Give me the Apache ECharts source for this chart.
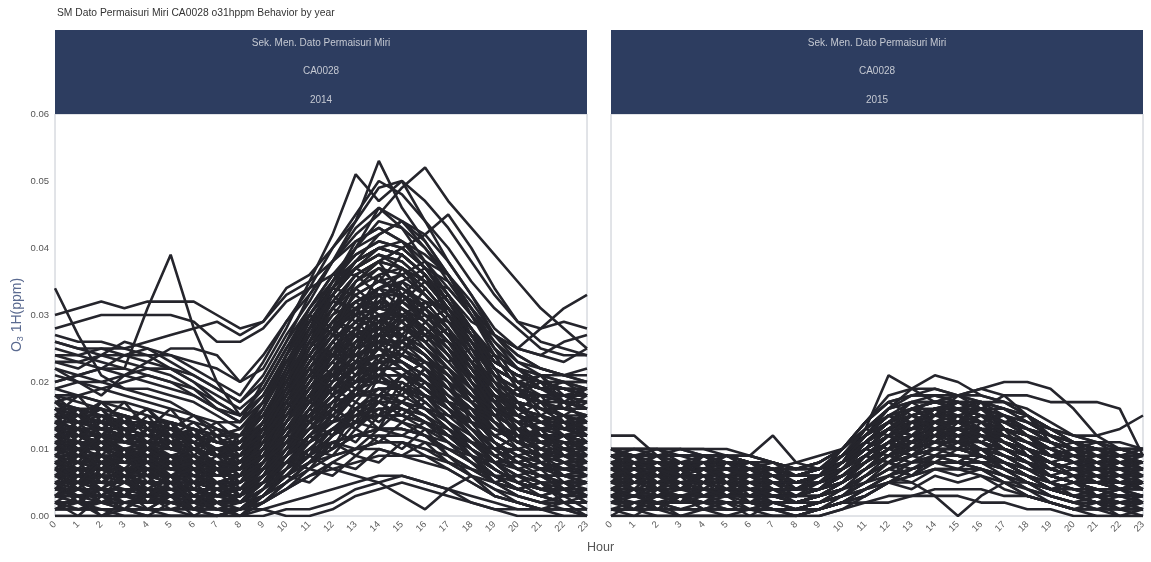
<!DOCTYPE html>
<html>
<head>
<meta charset="utf-8">
<script src="https://cdn.jsdelivr.net/npm/echarts@6/dist/echarts.min.js"></script>
<style>
  html, body { margin: 0; padding: 0; background: #fff; }
  #chart { width: 1151px; height: 562px; }
</style>
</head>
<body>
<div id="chart"></div>
<script>
// 小时刻度
const hours = ['0','1','2','3','4','5','6','7','8','9','10','11','12','13','14','15','16','17','18','19','20','21','22','23'];
const yTicks = [0, 0.01, 0.02, 0.03, 0.04, 0.05, 0.06];
const panelYears = ['2014', '2015'];
const stationName = 'Sek. Men. Dato Permaisuri Miri';
const stationCode = 'CA0028';

// 2014 日变化曲线 (ppb，每行一天，0-23 时)
const lines2014 = [
  [34,27,21,19,18,17,15,13,12,17,24,29,33,37,39,37,34,30,27,24,22,21,21,22],
  [30,31,32,31,32,32,32,30,28,29,33,35,38,41,43,41,37,33,29,27,25,24,26,27],
  [28,29,30,30,30,30,29,26,26,28,32,34,36,40,42,44,40,36,31,27,25,24,23,25],
  [27,26,26,25,26,27,28,29,27,29,34,36,40,45,50,48,44,40,35,31,28,25,24,24],
  [26,25,25,24,24,24,23,22,20,24,29,33,38,42,45,49,52,47,43,39,35,31,28,25],
  [24,24,23,22,31,39,28,20,15,19,25,30,35,40,46,43,38,34,30,26,23,22,21,21],
  [23,22,24,26,25,23,21,19,17,21,27,32,38,44,53,46,41,36,31,27,24,22,21,20],
  [22,20,18,21,23,25,25,24,20,22,28,35,42,51,47,50,44,38,33,28,25,28,31,33],
  [20,21,22,24,25,24,22,20,18,23,29,34,40,44,49,50,47,43,38,33,29,26,25,24],
  [19,20,19,18,17,16,15,14,14,20,26,33,38,43,46,44,42,45,40,34,29,28,29,28],
  [26,25,24,23,22,21,19,16,14,18,24,30,35,39,41,40,37,33,28,24,22,21,20,20],
  [25,24,25,25,24,22,20,17,15,18,24,29,34,38,40,39,36,32,27,23,21,20,20,19],
  [24,23,22,21,20,19,18,16,14,17,23,28,33,37,39,38,35,31,27,23,21,20,20,20],
  [23,23,24,24,23,22,20,18,16,19,25,31,36,39,41,40,37,32,27,23,21,20,19,19],
  [22,21,20,21,22,22,21,19,17,20,26,31,35,38,40,39,36,31,26,22,20,19,18,18],
  [20,21,22,22,21,20,18,16,15,19,25,30,34,38,40,39,36,32,27,22,20,19,18,18],
  [19,18,19,20,21,20,19,17,15,18,23,28,32,36,38,37,34,30,25,21,19,18,18,17],
  [21,20,20,19,19,18,17,15,13,16,22,28,33,37,40,41,38,33,28,23,21,20,19,19],
  [14,13,12,11,10,9,8,7,8,13,20,27,34,40,44,43,40,35,30,25,22,20,19,18],
  [12,12,11,10,10,9,8,7,8,12,19,26,33,38,42,44,41,36,30,25,22,20,19,18],
  [16,15,14,13,12,11,10,9,10,14,21,28,35,41,43,41,39,36,32,27,24,22,21,20],
  [10,9,9,8,8,7,6,5,6,11,18,25,31,36,38,40,42,38,33,27,23,21,20,19],
  [15,14,13,12,11,10,9,7,8,12,18,24,29,33,35,34,31,27,22,18,16,15,14,13],
  [12,11,11,10,9,8,7,6,7,11,16,21,26,30,32,31,28,24,19,15,13,12,12,11],
  [8,8,7,7,6,6,5,4,5,9,14,19,24,28,30,29,26,22,17,13,11,10,9,9],
  [5,5,4,4,4,3,3,2,3,7,12,17,22,25,27,27,24,20,15,11,8,7,6,6],
  [3,3,2,2,2,2,1,1,2,5,9,13,17,20,22,22,20,16,12,8,6,5,4,4],
  [1,1,1,1,0,0,0,0,1,3,6,10,13,16,18,18,16,13,9,6,4,3,2,2],
  [18,17,16,15,14,13,12,11,12,16,22,27,31,35,37,36,33,29,25,21,19,18,18,17],
  [17,18,17,16,15,14,13,12,13,17,23,29,34,38,40,39,36,32,27,22,20,19,18,18],
  [16,15,15,14,14,13,12,10,11,15,21,26,30,32,34,35,33,30,26,22,20,19,19,18],
  [14,13,12,12,11,11,10,9,10,14,20,26,32,36,38,37,35,31,26,21,18,17,16,16],
  [13,12,12,11,11,10,10,9,9,12,17,22,26,29,31,32,30,27,23,19,17,16,15,14],
  [11,10,10,9,9,9,8,7,8,12,17,23,28,32,34,33,31,28,23,18,15,14,13,12],
  [10,10,9,9,8,8,7,6,6,10,15,20,25,28,30,31,29,25,20,16,14,13,12,11],
  [9,9,8,8,8,7,7,6,6,9,14,19,23,27,29,28,26,23,19,15,13,12,11,10],
  [7,7,6,6,6,5,5,4,5,8,13,18,22,26,28,27,25,21,17,14,12,10,9,8],
  [6,6,6,5,5,5,4,3,4,7,11,15,19,22,24,24,22,19,15,11,9,8,7,7],
  [4,4,4,3,3,3,2,2,3,6,10,14,18,21,23,23,21,17,13,9,7,6,5,5],
  [2,2,2,1,1,1,1,0,1,4,8,12,16,19,21,21,19,16,12,8,5,4,3,3],
  [0,0,0,0,0,0,0,0,0,2,5,8,12,15,17,17,15,12,9,5,3,2,1,1],
  [17,16,15,14,13,12,11,10,11,15,20,26,31,35,38,40,37,33,28,23,21,20,19,18],
  [15,15,14,14,13,12,11,10,10,14,19,24,28,31,33,34,32,28,24,20,18,17,16,15],
  [13,13,13,12,12,11,10,9,9,13,18,23,27,31,33,33,31,27,22,18,16,15,14,14],
  [12,12,11,11,10,10,9,8,8,11,15,19,23,27,29,30,28,24,20,17,15,14,13,13],
  [10,11,11,10,10,9,8,7,7,10,14,18,22,25,27,27,25,22,18,15,13,12,12,11],
  [9,8,8,7,7,7,6,5,5,8,12,16,20,24,26,26,24,21,17,13,11,10,9,9],
  [8,7,7,6,6,6,5,5,5,8,12,17,21,24,25,24,22,19,16,12,10,9,8,8],
  [6,5,5,5,4,4,4,3,3,6,10,14,17,20,21,21,19,16,12,9,7,6,6,5],
  [5,4,4,4,3,3,3,2,2,5,9,12,15,18,19,19,17,14,10,7,5,4,4,3],
  [3,3,3,2,2,2,2,1,1,3,6,9,12,14,15,15,13,11,8,5,4,3,2,2],
  [2,1,1,1,1,1,0,0,1,2,5,8,10,12,13,13,12,9,6,4,2,1,1,1],
  [16,14,13,12,11,11,10,9,10,14,19,25,30,34,36,37,35,31,26,22,20,18,17,16],
  [14,14,13,12,12,11,10,9,9,13,18,24,29,33,35,36,33,29,24,20,17,16,15,15],
  [11,11,10,10,9,9,8,7,8,11,16,21,25,29,31,30,28,25,21,17,15,14,13,12],
  [10,9,9,8,8,7,7,6,7,10,14,18,21,24,26,26,24,21,17,14,12,11,10,10],
  [7,7,7,6,6,6,5,4,4,7,11,15,18,21,23,23,21,18,15,12,10,9,8,7],
  [5,5,5,5,4,4,4,3,3,6,9,13,16,19,20,20,18,15,12,9,7,6,5,5],
  [4,3,3,3,3,2,2,2,2,4,7,10,13,15,16,16,15,12,9,6,5,4,3,3],
  [1,1,1,0,0,0,0,0,1,2,4,6,8,10,11,11,10,8,6,3,2,1,1,0],
  [18,18,17,17,16,15,14,13,12,15,21,28,33,37,39,38,35,31,26,22,20,19,19,18],
  [17,16,16,15,14,13,12,11,11,14,19,25,29,32,33,33,31,27,23,20,18,18,17,17],
  [15,14,14,13,12,12,11,10,10,13,18,22,26,29,30,30,28,25,21,18,17,16,16,15],
  [13,12,12,12,11,11,10,9,9,12,16,20,24,27,28,28,26,23,19,16,14,13,13,12],
  [12,12,11,11,11,10,10,9,9,12,17,21,24,26,27,27,25,22,19,16,14,13,12,12],
  [11,11,10,10,10,9,9,8,8,11,15,19,22,25,26,25,23,20,17,14,12,11,11,10],
  [9,9,9,8,8,8,7,7,7,9,13,17,20,22,23,23,21,19,16,13,11,10,10,9],
  [8,8,8,8,7,7,7,6,6,9,12,16,19,21,22,22,20,18,15,12,10,9,9,8],
  [7,6,6,6,6,5,5,5,5,7,10,13,16,18,19,19,18,16,13,10,8,7,7,6],
  [6,6,5,5,5,5,4,4,4,6,9,12,14,16,17,17,16,14,11,8,7,6,6,6],
  [4,4,4,4,4,3,3,3,3,5,8,11,13,15,16,16,14,12,9,7,5,4,4,4],
  [3,2,2,2,2,2,2,1,1,3,6,8,10,12,13,13,12,10,8,5,4,3,2,2],
  [16,16,15,15,14,14,13,12,12,15,20,25,29,31,32,31,29,26,23,20,18,17,17,16],
  [14,13,13,13,12,12,12,11,11,14,19,24,28,30,31,30,28,25,22,19,17,16,15,14],
  [12,13,12,12,12,11,11,10,10,13,17,22,25,27,28,28,27,24,21,18,16,15,14,13],
  [10,10,10,9,9,9,8,8,8,10,14,18,21,23,24,24,23,21,18,15,13,12,11,11],
  [8,9,9,9,8,8,8,7,7,9,12,15,18,20,21,21,20,18,16,13,11,10,9,9],
  [6,7,7,7,7,6,6,6,6,8,11,14,16,18,19,19,18,16,13,11,9,8,7,7],
  [5,5,6,6,5,5,5,5,5,7,9,11,13,14,15,15,14,13,11,9,7,6,6,5],
  [3,4,4,4,4,4,3,3,3,5,7,9,11,12,13,13,12,11,9,7,5,4,4,3],
  [2,2,2,3,3,3,2,2,2,3,5,7,9,10,11,11,10,9,7,5,3,2,2,2],
  [1,1,1,1,1,1,1,1,1,2,4,6,7,8,9,9,8,7,5,3,2,1,1,1],
  [2,2,1,1,1,0,0,0,0,1,2,3,4,5,6,6,5,4,3,2,1,1,1,0],
  [0,0,0,0,0,0,0,0,0,0,1,1,2,4,5,6,5,4,2,1,0,0,0,0],
  [6,5,4,3,3,2,2,1,1,1,0,0,1,3,4,5,4,3,2,1,1,1,0,0],
  [8,7,7,6,5,5,4,3,4,6,8,9,7,6,5,3,1,4,6,5,4,3,2,2],
  [10,9,9,8,8,7,7,6,7,13,21,28,32,31,28,25,22,19,16,14,12,11,11,10],
  [8,8,7,7,7,6,6,5,6,12,19,25,29,28,26,23,20,17,14,12,10,9,9,8],
  [6,6,5,5,5,5,4,4,5,10,17,23,27,27,25,22,19,16,13,10,8,7,7,6],
  [12,11,11,10,10,9,9,8,9,14,22,29,34,33,30,27,24,21,18,15,13,12,12,11],
  [4,4,4,3,3,3,3,2,3,8,14,20,24,24,22,19,16,13,10,8,6,5,5,4],
  [14,13,13,12,12,11,10,9,10,16,24,31,36,36,33,29,25,22,19,16,15,14,13,13],
  [9,9,8,8,8,7,7,6,6,8,11,15,19,23,27,30,32,31,28,22,17,14,12,11],
  [7,7,6,6,6,6,5,5,5,7,10,13,17,21,25,28,30,29,26,20,15,12,10,9],
  [11,11,10,10,9,9,8,8,8,10,13,17,21,25,29,32,35,34,30,24,19,16,14,13],
  [5,5,5,4,4,4,4,3,3,5,8,11,14,18,22,25,27,26,23,17,12,10,8,7],
  [13,12,12,11,11,10,10,9,9,11,15,19,24,28,32,35,37,35,31,25,20,17,15,14],
  [3,3,3,3,2,2,2,2,2,4,6,9,12,15,18,21,23,22,19,14,10,8,6,5],
  [15,15,14,14,13,12,12,11,11,13,17,22,27,31,34,36,38,36,31,26,22,19,17,16],
  [10,10,9,9,9,8,8,8,8,9,11,13,14,15,15,14,13,12,11,10,10,9,9,9],
  [7,7,7,7,6,6,6,6,6,7,8,10,11,12,12,12,11,10,9,8,8,7,7,7],
  [13,13,12,12,12,11,11,10,10,11,13,15,17,18,18,17,16,15,14,13,12,12,12,12],
  [5,5,5,5,5,4,4,4,4,5,6,8,9,10,10,9,9,8,7,6,6,5,5,5],
  [16,15,15,14,14,14,13,12,12,13,15,17,19,20,20,19,18,17,16,15,15,14,14,14],
  [9,11,8,10,7,9,6,8,5,9,16,22,18,25,30,26,32,28,20,15,17,12,10,11],
  [12,9,11,8,10,7,9,6,8,12,17,14,22,27,23,30,26,22,18,14,11,13,9,10],
  [6,8,5,7,4,6,3,5,4,6,12,18,24,21,27,31,28,24,19,17,13,9,11,8],
  [15,12,14,11,13,10,12,9,11,15,20,26,31,29,34,31,27,30,24,19,16,18,14,15],
  [3,5,2,4,1,3,1,2,1,4,9,15,20,24,22,26,23,19,16,11,8,6,4,5],
  [17,15,16,13,14,11,12,10,9,14,22,30,28,35,38,33,36,30,25,21,18,20,17,16],
  [8,6,9,7,10,8,6,4,6,10,15,20,26,30,27,24,29,25,20,16,14,11,12,9],
  [11,13,10,12,9,11,8,10,7,10,14,19,23,20,26,29,31,27,22,18,15,13,14,12],
  [2,4,3,5,3,4,2,3,2,5,10,16,21,18,23,27,24,20,14,10,7,5,3,4],
  [14,16,13,15,12,14,11,13,10,13,18,23,28,32,29,33,30,26,21,17,19,16,15,17],
  [17,14,16,12,15,11,13,9,12,16,23,27,33,30,36,32,29,31,25,21,18,20,16,18],
  [13,16,12,15,10,14,9,12,8,13,19,24,21,28,25,33,29,26,22,17,19,15,17,14],
  [11,8,12,9,13,10,11,7,9,14,20,17,25,29,26,30,27,23,25,19,15,17,13,15],
  [7,10,6,9,5,8,4,7,3,8,13,18,16,23,20,27,24,21,17,18,13,10,12,9],
  [4,7,3,6,2,5,1,4,2,6,11,9,16,14,21,18,22,17,13,10,12,8,6,7],
  [15,18,14,17,13,16,12,14,11,15,21,26,24,31,28,35,31,28,23,24,19,21,17,19],
  [1,3,0,2,1,3,0,2,0,3,7,12,10,16,13,19,16,13,10,8,5,3,4,2],
  [9,12,10,13,8,11,7,9,6,10,17,23,28,25,32,29,34,30,26,21,16,14,15,13],
  [16,13,17,14,16,12,14,11,10,14,19,25,31,34,31,37,33,29,26,22,20,21,18,19],
  [5,2,6,3,7,4,5,2,3,7,12,16,21,19,24,22,20,17,14,10,8,9,6,7],
  [12,14,11,13,10,12,8,10,7,11,17,22,27,24,29,26,28,24,20,16,14,15,12,13],
  [8,5,9,6,8,5,7,3,5,9,15,21,26,23,28,32,29,26,21,16,12,13,10,11],
  [14,11,15,12,14,10,12,9,11,16,24,30,27,34,37,34,31,33,27,21,19,17,18,16],
  [3,6,4,7,3,6,2,5,2,5,9,14,12,17,15,20,17,14,11,8,6,7,4,5],
  [10,13,9,12,11,14,10,12,8,12,18,24,29,27,33,30,26,28,23,19,16,14,15,12],
  [18,15,17,14,16,13,15,12,13,17,24,29,34,37,35,39,36,32,28,23,21,19,20,18],
  [6,9,7,10,6,9,5,8,4,8,14,19,24,22,27,25,28,25,20,15,11,9,10,8],
  [2,0,3,1,4,2,3,1,1,3,7,11,15,13,18,16,14,12,9,6,4,5,2,3],
  [13,10,12,9,11,8,10,7,8,12,18,23,28,31,28,33,30,27,22,17,15,13,14,11],
  [7,4,8,5,9,6,8,5,6,10,16,22,20,26,30,27,31,27,22,17,14,11,12,10],
  [6,4,7,5,6,3,5,2,3,6,9,12,15,13,17,15,18,14,12,9,7,8,5,6],
  [9,11,8,10,8,9,7,8,6,8,11,14,12,16,14,17,15,13,11,10,8,9,7,8],
  [3,2,4,3,5,3,4,2,2,4,7,10,9,13,11,14,12,10,8,6,4,5,3,4],
  [12,10,11,9,10,8,9,7,7,9,12,15,18,16,19,17,20,16,14,12,10,11,9,10],
  [5,7,4,6,3,5,2,4,2,5,8,7,11,9,12,10,13,9,7,5,6,4,5,3],
  [14,12,13,11,12,10,11,9,8,10,13,17,15,19,17,21,18,15,14,12,13,11,12,10],
  [2,1,2,1,3,2,1,0,1,3,6,5,8,7,10,9,11,8,6,4,3,2,3,1],
  [8,10,7,9,6,8,5,7,5,7,10,13,16,14,17,15,14,12,10,8,9,7,8,6],
  [11,9,12,10,11,9,10,8,7,9,14,18,22,20,23,21,19,17,15,13,11,12,10,11],
  [4,6,5,7,4,6,3,5,3,5,9,12,10,14,13,16,14,12,9,7,5,6,4,5],
  [7,5,8,6,7,5,6,4,4,6,10,15,19,17,21,19,22,18,15,11,9,7,8,6],
  [13,15,12,14,11,13,10,12,9,11,15,20,24,22,25,23,21,19,17,15,13,14,12,13],
  [1,2,0,1,0,2,1,1,0,2,4,7,6,9,8,11,9,7,5,3,2,1,2,0],
  [10,8,9,7,8,6,7,5,5,8,12,11,15,13,16,14,17,14,11,9,10,8,9,7],
  [16,14,15,13,14,12,13,11,10,12,16,21,19,23,21,24,22,20,18,16,14,15,13,14],
  [5,3,4,2,3,1,2,1,1,3,6,9,13,11,15,17,15,12,10,7,5,4,5,3],
  [9,7,10,8,9,7,8,6,6,8,11,16,14,19,18,21,19,16,13,11,9,10,8,9],
  [3,4,2,3,2,3,1,2,1,3,5,8,11,10,13,12,14,11,8,6,4,3,4,2]
];

// 2015 日变化曲线 (ppb)
const lines2015 = [
  [12,12,9,9,9,9,8,7,6,6,8,13,21,19,17,16,15,14,13,12,10,9,9,8],
  [10,10,10,10,10,9,9,12,8,7,9,12,16,19,21,20,18,17,15,13,12,12,13,15],
  [9,9,9,9,9,9,8,7,8,9,10,14,18,19,19,18,19,20,20,19,16,12,10,10],
  [8,8,8,8,8,8,7,6,5,6,8,11,14,16,17,18,19,18,18,17,17,17,16,9],
  [3,3,2,2,2,2,2,1,1,2,3,4,5,5,3,0,3,5,5,4,3,2,1,1],
  [3,3,2,2,2,1,1,1,1,1,2,2,3,3,4,4,4,3,3,2,1,1,1,0],
  [1,1,1,0,0,0,0,0,0,0,1,2,2,3,3,3,2,2,1,1,0,0,0,0],
  [10,10,10,9,9,9,9,8,7,8,10,13,16,18,18,18,17,16,14,12,11,10,10,10],
  [10,9,9,9,9,8,8,7,6,7,9,12,15,17,18,17,16,15,13,12,11,10,10,9],
  [9,9,9,9,8,8,8,7,6,7,9,12,14,16,17,17,16,14,13,11,10,10,9,9],
  [9,9,8,8,8,8,7,6,6,7,8,11,14,15,16,16,15,14,12,11,10,9,9,8],
  [8,8,8,8,8,7,7,6,5,6,8,11,13,15,16,16,15,13,12,10,9,9,8,8],
  [8,8,7,7,7,7,6,6,5,6,8,10,13,14,15,15,14,13,11,10,9,8,8,8],
  [7,7,7,7,7,6,6,5,5,6,7,10,12,14,15,15,14,12,11,9,8,8,7,7],
  [7,7,7,6,6,6,6,5,5,5,7,9,12,13,14,14,13,12,10,9,8,7,7,7],
  [6,6,6,6,6,6,5,5,4,5,7,9,11,13,14,14,13,11,10,8,7,7,6,6],
  [6,6,6,6,5,5,5,4,4,5,6,8,11,12,13,13,12,11,9,8,7,6,6,6],
  [5,5,5,5,5,5,5,4,4,4,6,8,10,12,13,13,12,10,9,7,6,6,5,5],
  [5,5,5,5,4,4,4,4,3,4,5,7,10,11,12,12,11,10,8,7,6,5,5,5],
  [4,4,4,4,4,4,4,3,3,4,5,7,9,11,12,12,11,9,8,6,5,5,4,4],
  [4,4,4,4,4,4,3,3,3,3,5,7,9,10,11,11,10,9,7,6,5,4,4,4],
  [3,3,3,3,3,3,3,3,2,3,4,6,8,10,11,11,10,8,7,5,4,4,3,3],
  [3,3,3,3,3,3,3,2,2,3,4,6,8,9,10,10,9,8,6,5,4,3,3,3],
  [2,2,2,2,2,2,2,2,2,2,3,5,7,9,10,10,9,7,6,4,3,3,2,2],
  [2,2,2,2,2,2,2,1,1,2,3,5,7,8,9,9,8,7,5,4,3,2,2,2],
  [1,1,1,1,1,1,1,1,1,1,2,4,6,8,9,9,8,6,5,3,2,2,1,1],
  [1,1,1,1,1,1,1,1,0,1,2,4,6,7,8,8,7,6,4,3,2,1,1,1],
  [0,0,0,0,0,0,0,0,0,1,2,3,5,7,8,8,7,5,4,2,1,1,0,0],
  [0,0,0,0,0,0,0,0,0,0,1,3,5,6,7,7,6,5,3,2,1,0,0,0],
  [10,10,9,10,10,10,9,8,7,8,10,13,16,17,17,17,17,16,15,13,12,11,11,10],
  [9,10,10,10,9,9,8,7,7,8,10,14,17,18,18,17,16,15,14,13,11,10,10,9],
  [9,9,9,8,8,8,8,7,6,7,9,12,15,16,16,17,16,15,13,11,10,10,9,9],
  [8,8,8,8,7,7,7,6,6,7,9,11,14,15,16,17,17,16,14,12,10,9,9,9],
  [8,7,7,7,7,7,7,6,6,6,8,11,13,15,16,16,16,15,13,11,10,9,8,8],
  [7,7,6,6,6,6,6,6,5,6,8,10,13,14,15,14,14,13,12,10,9,8,8,7],
  [7,6,6,6,6,5,5,5,5,6,7,10,12,13,14,14,13,12,11,10,9,8,7,7],
  [6,6,5,5,5,5,5,5,4,5,7,9,11,13,13,13,13,12,10,9,8,7,6,6],
  [6,5,5,5,5,5,4,4,4,5,6,8,11,12,13,13,12,11,10,8,7,7,6,6],
  [5,5,5,4,4,4,4,4,4,4,6,8,10,12,12,12,12,11,9,8,7,6,6,5],
  [5,4,4,4,4,4,4,3,3,4,5,7,9,11,12,12,11,10,9,7,6,6,5,5],
  [4,4,4,3,3,3,3,3,3,4,5,7,9,10,11,11,11,10,8,7,6,5,5,4],
  [4,3,3,3,3,3,3,3,2,3,4,6,8,10,11,10,10,9,8,6,5,5,4,4],
  [3,3,3,3,2,2,2,2,2,3,4,6,8,9,10,10,9,8,7,6,5,4,4,3],
  [3,2,2,2,2,2,2,2,2,2,3,5,7,8,9,9,9,8,6,5,4,4,3,3],
  [2,2,2,1,1,1,1,1,1,2,3,4,6,8,8,8,8,7,6,4,3,3,2,2],
  [1,1,1,1,1,1,1,1,1,1,2,4,5,7,8,8,7,6,5,4,3,2,2,1],
  [1,1,0,0,0,0,0,0,0,1,2,3,5,6,7,7,7,6,4,3,2,1,1,1],
  [9,9,9,9,9,9,8,8,7,8,10,14,17,18,19,18,17,15,14,12,11,10,10,10],
  [10,10,10,10,9,9,9,8,7,7,9,13,16,17,17,16,15,14,13,12,11,11,10,10],
  [8,9,9,9,9,8,8,7,7,7,9,12,15,16,17,18,18,17,15,13,11,10,10,9],
  [7,8,8,8,8,8,7,7,6,7,8,11,13,14,15,16,17,17,16,14,12,11,10,9],
  [6,7,7,7,7,7,7,6,6,6,8,10,12,14,14,15,16,16,15,13,11,10,9,8],
  [5,6,6,6,6,6,6,5,5,6,7,9,11,13,14,14,15,15,13,11,10,9,8,7],
  [4,5,5,5,5,5,5,5,4,5,6,8,10,11,12,13,13,13,12,10,9,8,7,6],
  [3,4,4,4,4,4,4,4,4,4,5,7,9,10,11,11,12,12,11,9,8,7,6,5],
  [2,3,3,3,3,3,3,3,3,3,4,6,8,9,10,10,10,10,9,8,7,6,5,4],
  [2,2,2,2,2,2,2,2,2,3,4,5,6,7,8,8,8,8,7,6,5,4,3,3],
  [6,8,5,7,4,6,3,5,4,5,8,12,15,13,16,14,17,13,12,9,10,7,8,6],
  [9,7,8,6,9,7,8,6,5,6,9,11,14,17,15,18,16,14,15,11,9,10,8,9],
  [3,5,4,6,3,5,2,4,3,4,6,9,12,10,13,15,12,10,8,6,7,5,4,5],
  [8,9,7,8,6,7,5,6,4,6,10,14,17,15,13,12,10,9,8,7,6,6,5,5],
  [4,3,5,4,6,5,4,3,2,3,5,8,11,14,13,11,9,8,6,5,4,3,4,3],
  [10,9,10,8,9,7,8,7,6,7,9,12,14,13,15,17,16,18,15,12,10,11,9,10],
  [2,1,3,2,4,3,2,1,1,2,4,7,10,12,11,13,11,9,7,5,3,2,2,1],
  [7,6,8,7,8,6,7,5,5,5,7,10,13,16,14,12,13,11,9,8,9,7,6,7],
  [5,7,6,8,7,8,6,7,5,6,8,11,14,12,15,16,14,15,12,10,8,8,7,6],
  [1,2,1,3,2,3,1,2,1,2,3,6,9,11,10,12,10,8,6,4,3,2,1,2],
  [9,8,7,6,5,4,4,3,3,4,7,11,14,16,17,16,14,12,10,8,7,7,8,9],
  [4,5,6,7,8,9,8,7,6,6,8,10,13,15,16,15,13,11,9,8,6,5,5,4],
  [9,7,9,6,8,5,7,5,4,6,9,12,15,13,16,14,16,13,11,10,8,9,7,8],
  [5,8,4,7,5,8,6,7,4,5,8,11,10,14,12,15,13,12,10,7,8,6,7,5],
  [2,4,1,3,2,4,3,4,2,3,5,8,11,9,12,10,13,10,8,5,6,3,4,2],
  [8,5,7,4,6,3,5,3,3,5,7,10,13,11,14,12,11,13,9,8,6,7,5,6],
  [0,2,1,3,1,2,0,2,1,1,3,5,8,6,9,8,10,7,5,3,2,3,1,2],
  [7,9,6,8,7,9,7,8,6,7,10,13,12,15,14,16,15,13,12,9,10,8,9,7],
  [3,1,4,2,5,3,4,2,2,3,5,9,8,11,10,12,9,8,6,4,5,3,2,3],
  [6,4,7,5,6,4,6,4,3,4,6,9,12,10,13,11,14,11,9,7,6,5,6,4],
  [10,8,9,7,9,8,8,6,5,6,8,12,14,16,15,17,15,14,12,10,11,9,10,9],
  [4,6,3,5,4,6,4,5,3,4,7,10,9,12,11,14,12,11,9,6,5,6,4,5],
  [1,0,2,0,1,0,1,0,0,1,2,4,6,5,7,6,7,5,3,2,1,2,0,1],
  [7,5,6,4,7,5,6,4,4,5,7,11,13,12,14,13,15,12,10,8,7,8,6,7],
  [5,6,4,5,3,4,3,4,3,4,6,8,10,9,11,10,12,10,8,6,5,6,4,5],
  [8,7,8,6,7,6,7,5,5,6,8,10,12,11,13,12,13,11,10,9,8,7,8,7],
  [2,3,2,3,1,2,1,2,1,2,3,5,7,6,8,7,9,7,5,4,3,2,3,2],
  [6,5,6,5,5,4,5,4,4,5,7,9,8,10,9,11,10,9,7,6,5,5,4,5],
  [9,8,8,7,8,7,7,6,5,6,8,11,13,15,13,14,12,11,10,9,9,8,9,8],
  [3,4,3,4,3,4,2,3,2,3,4,6,8,7,9,8,10,8,6,4,4,3,3,2],
  [7,8,7,8,6,7,6,6,5,6,7,9,11,10,12,11,13,12,10,8,7,7,6,6],
  [4,3,4,3,4,3,3,2,2,3,5,7,9,8,10,9,8,7,5,4,3,4,3,3],
  [1,1,2,1,2,1,1,1,0,1,2,3,5,4,6,5,6,4,3,2,1,1,2,1],
  [10,9,9,8,8,7,7,6,6,7,9,13,15,14,16,15,14,13,12,11,10,10,9,9],
  [6,7,5,6,5,6,4,5,4,4,6,8,10,12,11,13,11,10,8,7,6,5,5,6],
  [8,6,7,6,7,5,6,5,4,5,7,10,12,11,14,13,12,11,9,8,7,8,7,7],
  [2,2,3,2,3,2,2,1,1,2,4,6,8,9,8,10,9,8,6,4,3,3,2,2],
  [5,4,5,4,5,4,4,3,3,4,6,8,11,10,12,11,12,10,8,6,5,4,4,5]
];

const chart = echarts.init(document.getElementById('chart'));

const panels = [
  { left: 55, data: lines2014 },
  { left: 611, data: lines2015 }
];
const panelWidth = 532;
const plotTop = 114;
const plotHeight = 402;
const lineColor = '#25252c';

// 组装 series
const series = [];
panels.forEach((p, i) => {
  p.data.forEach(day => {
    series.push({
      type: 'line',
      xAxisIndex: i,
      yAxisIndex: i,
      data: day.map(v => v / 1000),
      showSymbol: false,
      silent: true,
      lineStyle: { color: lineColor, width: 2.6 },
      emphasis: { disabled: true }
    });
  });
});

// 标题、分面标题条
const graphics = [
  {
    type: 'text', left: 57, top: 8,
    style: { text: 'SM Dato Permaisuri Miri CA0028 o31hppm Behavior by year', fontSize: 10.3, fill: '#333', fontFamily: 'Liberation Sans' }
  },
  {
    type: 'text', left: 587, top: 541,
    style: { text: 'Hour', fontSize: 12.5, fill: '#555', fontFamily: 'Liberation Sans' }
  }
];
panels.forEach((p, i) => {
  graphics.push({
    type: 'rect', shape: { x: p.left, y: 30, width: panelWidth, height: plotTop - 30 },
    style: { fill: '#2d3d60' }, silent: true
  });
  [stationName, stationCode, panelYears[i]].forEach((t, k) => {
    graphics.push({
      type: 'text', x: p.left + panelWidth / 2, y: 43 + k * 28.5,
      style: { text: t, fontSize: 10, fill: '#c5c9d2', align: 'center', verticalAlign: 'middle', fontFamily: 'Liberation Sans' }
    });
  });
});

chart.setOption({
  animation: false,
  backgroundColor: '#fff',
  grid: panels.map(p => ({
    left: p.left, top: plotTop, width: panelWidth, height: plotHeight,
    show: true, borderColor: '#c4c8d0', borderWidth: 1, backgroundColor: '#fff'
  })),
  xAxis: panels.map((p, i) => ({
    type: 'category', gridIndex: i, data: hours, boundaryGap: false,
    axisLine: { show: false }, axisTick: { show: false },
    axisLabel: { interval: 0, rotate: 45, fontSize: 9.5, color: '#5c5c5c', margin: 7, fontFamily: 'Liberation Sans' },
    splitLine: { show: false }
  })),
  yAxis: panels.map((p, i) => ({
    type: 'value', gridIndex: i, min: yTicks[0], max: yTicks[yTicks.length - 1], interval: 0.01,
    axisLine: { show: false }, axisTick: { show: false }, splitLine: { show: false },
    axisLabel: {
      show: i === 0, fontSize: 9.5, color: '#555', margin: 6, fontFamily: 'Liberation Sans',
      formatter: v => v.toFixed(2)
    },
    name: i === 0 ? '{a|O}{s|3}{a| 1H(ppm)}' : '',
    nameLocation: 'middle', nameRotate: 90, nameGap: 30,
    nameTextStyle: {
      rich: {
        a: { fontSize: 14, color: '#5a6a90', fontFamily: 'Liberation Sans' },
        s: { fontSize: 9, color: '#5a6a90', fontFamily: 'Liberation Sans', verticalAlign: 'bottom', padding: [7, 0, 0, 0] }
      }
    }
  })),
  graphic: graphics,
  series: series
});
</script>
</body>
</html>
